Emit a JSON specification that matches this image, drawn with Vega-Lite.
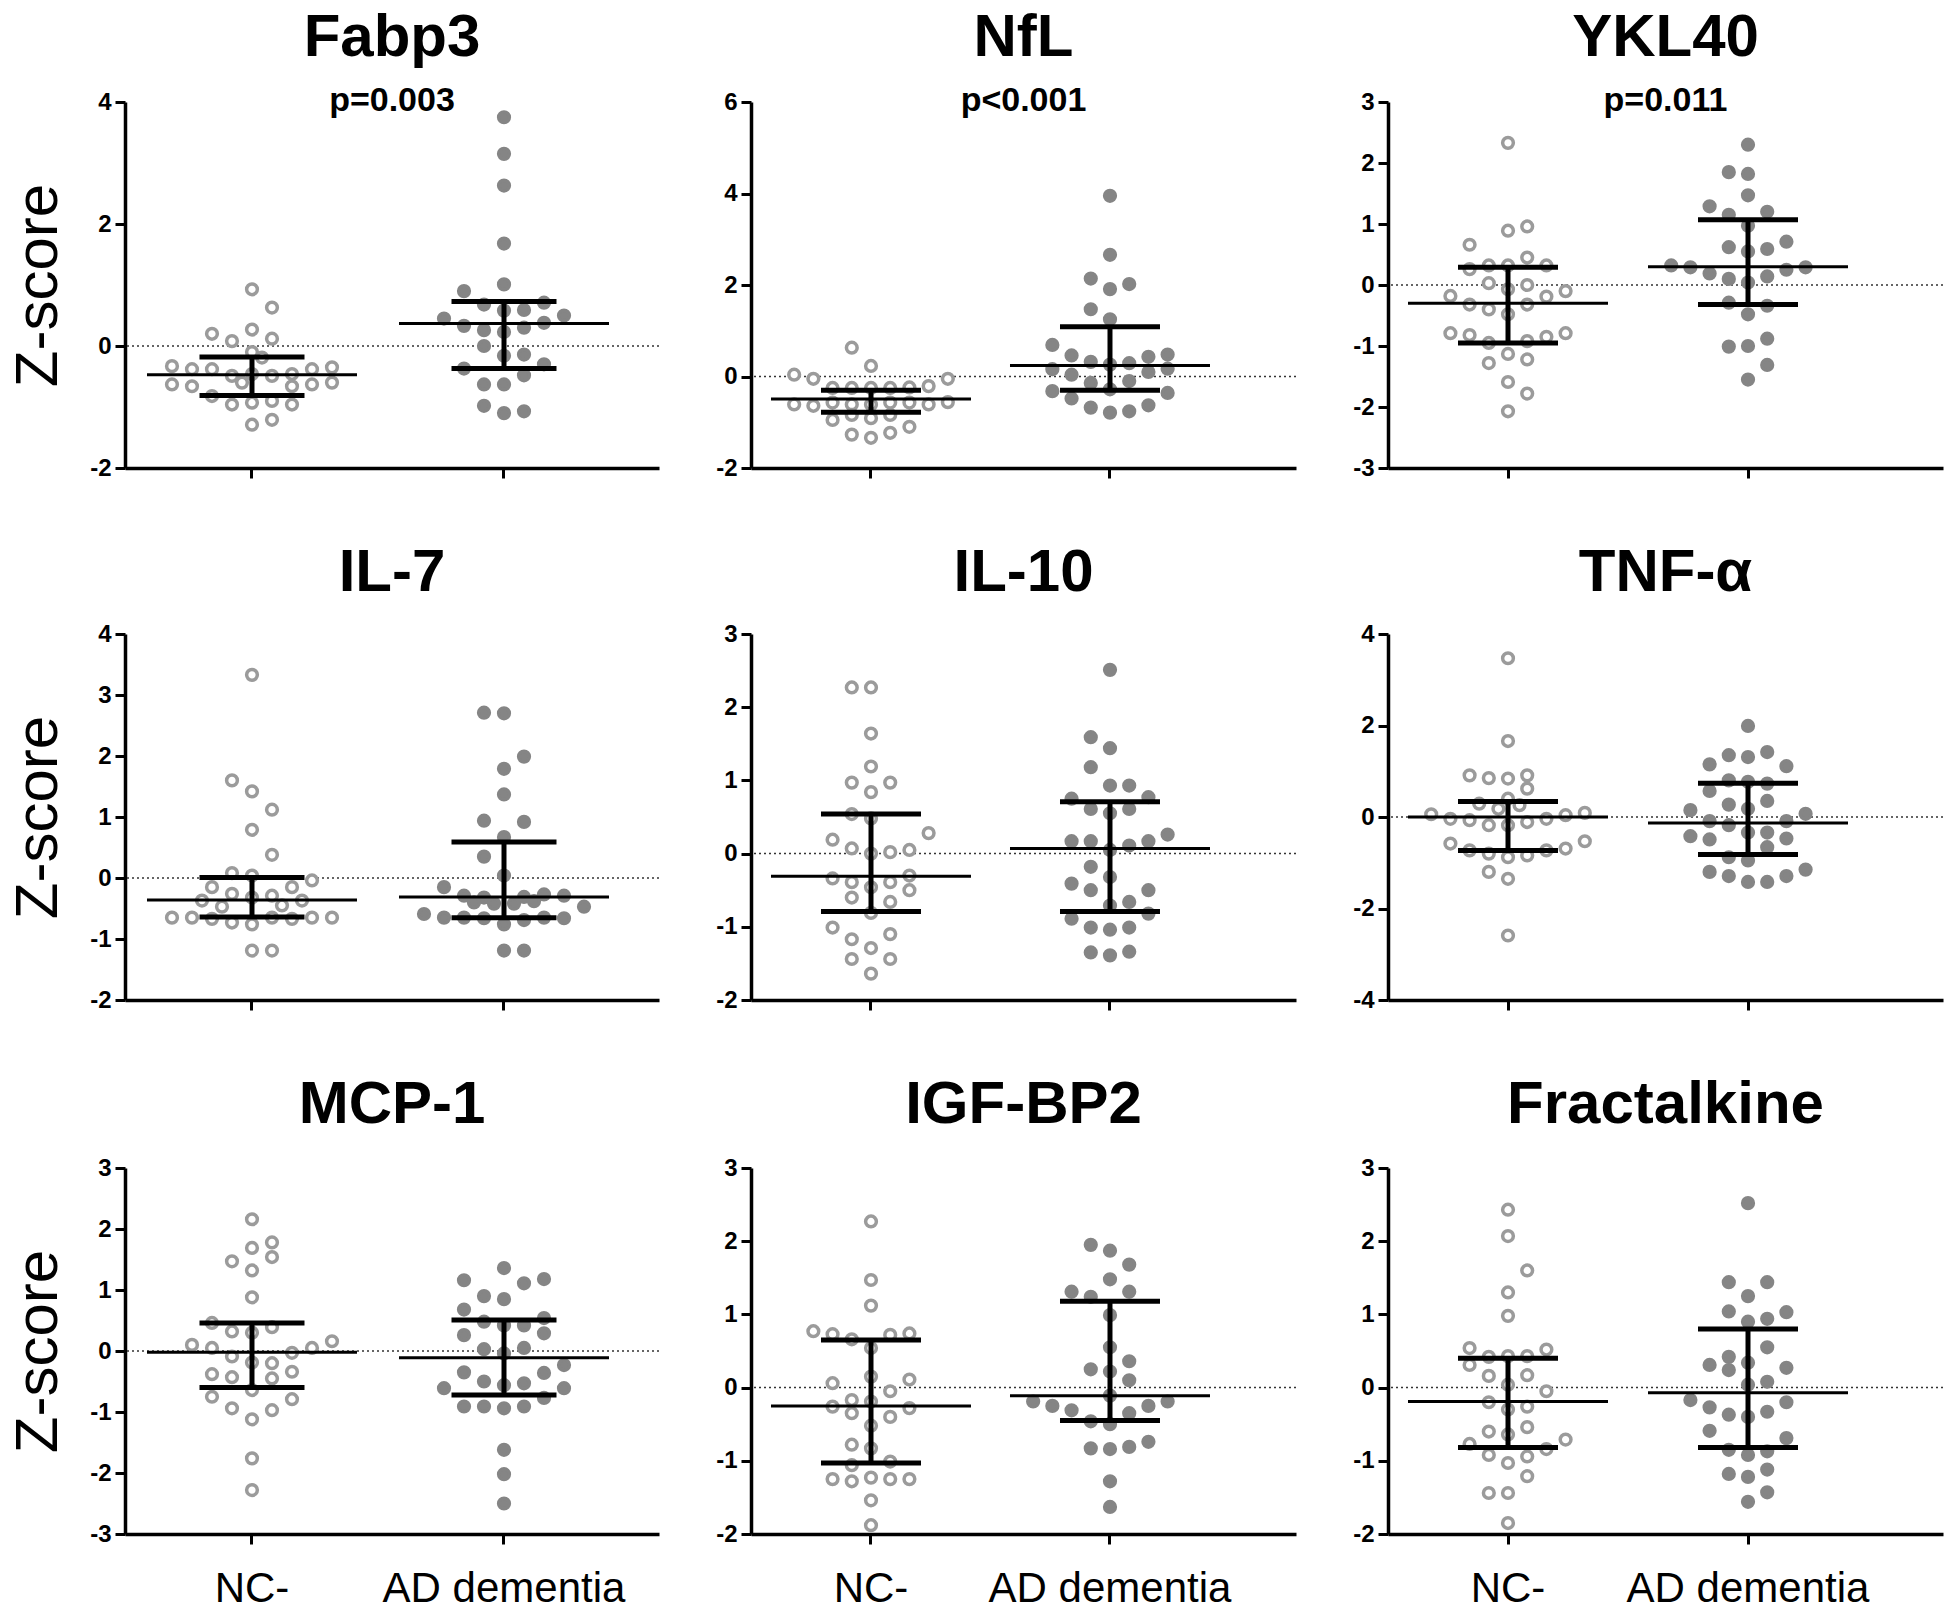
{
"$schema": "https://vega.github.io/schema/vega-lite/v6.json",
"padding": {"left": 8, "top": 8, "right": 0, "bottom": 0},
"datasets": {
"pts": [
{"p":"Fabp3","g":"NC-","s":0,"v":0.93},{"p":"Fabp3","g":"NC-","s":1,"v":0.63},{"p":"Fabp3","g":"NC-","s":-2,"v":0.2},{"p":"Fabp3","g":"NC-","s":0,"v":0.27},{"p":"Fabp3","g":"NC-","s":-1,"v":0.08},{"p":"Fabp3","g":"NC-","s":1,"v":0.12},{"p":"Fabp3","g":"NC-","s":0,"v":-0.1},{"p":"Fabp3","g":"NC-","s":0.5,"v":-0.19},{"p":"Fabp3","g":"NC-","s":-4,"v":-0.33},{"p":"Fabp3","g":"NC-","s":-3,"v":-0.38},{"p":"Fabp3","g":"NC-","s":-2,"v":-0.38},{"p":"Fabp3","g":"NC-","s":-1,"v":-0.49},{"p":"Fabp3","g":"NC-","s":0,"v":-0.46},{"p":"Fabp3","g":"NC-","s":1,"v":-0.49},{"p":"Fabp3","g":"NC-","s":2,"v":-0.46},{"p":"Fabp3","g":"NC-","s":3,"v":-0.38},{"p":"Fabp3","g":"NC-","s":4,"v":-0.35},{"p":"Fabp3","g":"NC-","s":-4,"v":-0.63},{"p":"Fabp3","g":"NC-","s":-3,"v":-0.66},{"p":"Fabp3","g":"NC-","s":-0.5,"v":-0.6},{"p":"Fabp3","g":"NC-","s":2,"v":-0.66},{"p":"Fabp3","g":"NC-","s":3,"v":-0.63},{"p":"Fabp3","g":"NC-","s":4,"v":-0.6},{"p":"Fabp3","g":"NC-","s":-2,"v":-0.82},{"p":"Fabp3","g":"NC-","s":-1,"v":-0.96},{"p":"Fabp3","g":"NC-","s":0,"v":-0.93},{"p":"Fabp3","g":"NC-","s":1,"v":-0.9},{"p":"Fabp3","g":"NC-","s":2,"v":-0.96},{"p":"Fabp3","g":"NC-","s":0,"v":-1.29},{"p":"Fabp3","g":"NC-","s":1,"v":-1.21},
{"p":"Fabp3","g":"AD dementia","s":0,"v":3.75},{"p":"Fabp3","g":"AD dementia","s":0,"v":3.15},{"p":"Fabp3","g":"AD dementia","s":0,"v":2.63},{"p":"Fabp3","g":"AD dementia","s":0,"v":1.68},{"p":"Fabp3","g":"AD dementia","s":0,"v":1.01},{"p":"Fabp3","g":"AD dementia","s":-2,"v":0.9},{"p":"Fabp3","g":"AD dementia","s":-1,"v":0.68},{"p":"Fabp3","g":"AD dementia","s":2,"v":0.71},{"p":"Fabp3","g":"AD dementia","s":0,"v":0.58},{"p":"Fabp3","g":"AD dementia","s":1,"v":0.59},{"p":"Fabp3","g":"AD dementia","s":-3,"v":0.45},{"p":"Fabp3","g":"AD dementia","s":3,"v":0.5},{"p":"Fabp3","g":"AD dementia","s":-2,"v":0.33},{"p":"Fabp3","g":"AD dementia","s":2,"v":0.38},{"p":"Fabp3","g":"AD dementia","s":-1,"v":0.26},{"p":"Fabp3","g":"AD dementia","s":0,"v":0.23},{"p":"Fabp3","g":"AD dementia","s":1,"v":0.3},{"p":"Fabp3","g":"AD dementia","s":-1,"v":0.0},{"p":"Fabp3","g":"AD dementia","s":0,"v":-0.16},{"p":"Fabp3","g":"AD dementia","s":1,"v":-0.14},{"p":"Fabp3","g":"AD dementia","s":-2,"v":-0.37},{"p":"Fabp3","g":"AD dementia","s":2,"v":-0.3},{"p":"Fabp3","g":"AD dementia","s":1,"v":-0.48},{"p":"Fabp3","g":"AD dementia","s":-1,"v":-0.63},{"p":"Fabp3","g":"AD dementia","s":0,"v":-0.63},{"p":"Fabp3","g":"AD dementia","s":-1,"v":-0.98},{"p":"Fabp3","g":"AD dementia","s":0,"v":-1.1},{"p":"Fabp3","g":"AD dementia","s":1,"v":-1.07},
{"p":"NfL","g":"NC-","s":-1,"v":0.63},{"p":"NfL","g":"NC-","s":0,"v":0.23},{"p":"NfL","g":"NC-","s":-4,"v":0.04},{"p":"NfL","g":"NC-","s":-3,"v":-0.05},{"p":"NfL","g":"NC-","s":4,"v":-0.05},{"p":"NfL","g":"NC-","s":3,"v":-0.21},{"p":"NfL","g":"NC-","s":-2,"v":-0.25},{"p":"NfL","g":"NC-","s":-1,"v":-0.25},{"p":"NfL","g":"NC-","s":0,"v":-0.25},{"p":"NfL","g":"NC-","s":1,"v":-0.25},{"p":"NfL","g":"NC-","s":2,"v":-0.24},{"p":"NfL","g":"NC-","s":-4,"v":-0.61},{"p":"NfL","g":"NC-","s":-3,"v":-0.64},{"p":"NfL","g":"NC-","s":-2,"v":-0.57},{"p":"NfL","g":"NC-","s":-1,"v":-0.61},{"p":"NfL","g":"NC-","s":0,"v":-0.61},{"p":"NfL","g":"NC-","s":1,"v":-0.57},{"p":"NfL","g":"NC-","s":2,"v":-0.57},{"p":"NfL","g":"NC-","s":3,"v":-0.61},{"p":"NfL","g":"NC-","s":4,"v":-0.56},{"p":"NfL","g":"NC-","s":-2,"v":-0.95},{"p":"NfL","g":"NC-","s":-1,"v":-0.84},{"p":"NfL","g":"NC-","s":0,"v":-0.91},{"p":"NfL","g":"NC-","s":1,"v":-0.84},{"p":"NfL","g":"NC-","s":2,"v":-1.1},{"p":"NfL","g":"NC-","s":-1,"v":-1.27},{"p":"NfL","g":"NC-","s":0,"v":-1.34},{"p":"NfL","g":"NC-","s":1,"v":-1.23},
{"p":"NfL","g":"AD dementia","s":0,"v":3.95},{"p":"NfL","g":"AD dementia","s":0,"v":2.66},{"p":"NfL","g":"AD dementia","s":-1,"v":2.14},{"p":"NfL","g":"AD dementia","s":1,"v":2.02},{"p":"NfL","g":"AD dementia","s":0,"v":1.91},{"p":"NfL","g":"AD dementia","s":-1,"v":1.47},{"p":"NfL","g":"AD dementia","s":0,"v":1.25},{"p":"NfL","g":"AD dementia","s":-3,"v":0.69},{"p":"NfL","g":"AD dementia","s":-2,"v":0.46},{"p":"NfL","g":"AD dementia","s":2,"v":0.43},{"p":"NfL","g":"AD dementia","s":3,"v":0.48},{"p":"NfL","g":"AD dementia","s":-1,"v":0.32},{"p":"NfL","g":"AD dementia","s":1,"v":0.29},{"p":"NfL","g":"AD dementia","s":0,"v":0.26},{"p":"NfL","g":"AD dementia","s":-3,"v":0.16},{"p":"NfL","g":"AD dementia","s":3,"v":0.17},{"p":"NfL","g":"AD dementia","s":-2,"v":0.04},{"p":"NfL","g":"AD dementia","s":2,"v":0.1},{"p":"NfL","g":"AD dementia","s":-1,"v":-0.14},{"p":"NfL","g":"AD dementia","s":1,"v":-0.1},{"p":"NfL","g":"AD dementia","s":0,"v":-0.28},{"p":"NfL","g":"AD dementia","s":-3,"v":-0.32},{"p":"NfL","g":"AD dementia","s":3,"v":-0.36},{"p":"NfL","g":"AD dementia","s":-2,"v":-0.48},{"p":"NfL","g":"AD dementia","s":-1,"v":-0.68},{"p":"NfL","g":"AD dementia","s":2,"v":-0.63},{"p":"NfL","g":"AD dementia","s":0,"v":-0.79},{"p":"NfL","g":"AD dementia","s":1,"v":-0.76},
{"p":"YKL40","g":"NC-","s":0,"v":2.33},{"p":"YKL40","g":"NC-","s":0,"v":0.89},{"p":"YKL40","g":"NC-","s":1,"v":0.96},{"p":"YKL40","g":"NC-","s":-2,"v":0.66},{"p":"YKL40","g":"NC-","s":1,"v":0.45},{"p":"YKL40","g":"NC-","s":-2,"v":0.26},{"p":"YKL40","g":"NC-","s":-1,"v":0.32},{"p":"YKL40","g":"NC-","s":0,"v":0.32},{"p":"YKL40","g":"NC-","s":2,"v":0.32},{"p":"YKL40","g":"NC-","s":-1,"v":0.03},{"p":"YKL40","g":"NC-","s":1,"v":0.0},{"p":"YKL40","g":"NC-","s":0,"v":-0.07},{"p":"YKL40","g":"NC-","s":-3,"v":-0.18},{"p":"YKL40","g":"NC-","s":3,"v":-0.1},{"p":"YKL40","g":"NC-","s":2,"v":-0.19},{"p":"YKL40","g":"NC-","s":-2,"v":-0.32},{"p":"YKL40","g":"NC-","s":-1,"v":-0.4},{"p":"YKL40","g":"NC-","s":1,"v":-0.32},{"p":"YKL40","g":"NC-","s":0,"v":-0.48},{"p":"YKL40","g":"NC-","s":-3,"v":-0.79},{"p":"YKL40","g":"NC-","s":-2,"v":-0.82},{"p":"YKL40","g":"NC-","s":2,"v":-0.85},{"p":"YKL40","g":"NC-","s":3,"v":-0.79},{"p":"YKL40","g":"NC-","s":-1,"v":-0.95},{"p":"YKL40","g":"NC-","s":1,"v":-0.92},{"p":"YKL40","g":"NC-","s":0,"v":-1.13},{"p":"YKL40","g":"NC-","s":1,"v":-1.22},{"p":"YKL40","g":"NC-","s":-1,"v":-1.28},{"p":"YKL40","g":"NC-","s":0,"v":-1.59},{"p":"YKL40","g":"NC-","s":1,"v":-1.78},{"p":"YKL40","g":"NC-","s":0,"v":-2.07},
{"p":"YKL40","g":"AD dementia","s":0,"v":2.3},{"p":"YKL40","g":"AD dementia","s":-1,"v":1.85},{"p":"YKL40","g":"AD dementia","s":0,"v":1.82},{"p":"YKL40","g":"AD dementia","s":0,"v":1.47},{"p":"YKL40","g":"AD dementia","s":-2,"v":1.29},{"p":"YKL40","g":"AD dementia","s":-1,"v":1.15},{"p":"YKL40","g":"AD dementia","s":1,"v":1.2},{"p":"YKL40","g":"AD dementia","s":0,"v":0.97},{"p":"YKL40","g":"AD dementia","s":-1,"v":0.62},{"p":"YKL40","g":"AD dementia","s":0,"v":0.55},{"p":"YKL40","g":"AD dementia","s":1,"v":0.59},{"p":"YKL40","g":"AD dementia","s":2,"v":0.71},{"p":"YKL40","g":"AD dementia","s":-4,"v":0.32},{"p":"YKL40","g":"AD dementia","s":-3,"v":0.29},{"p":"YKL40","g":"AD dementia","s":3,"v":0.29},{"p":"YKL40","g":"AD dementia","s":-2,"v":0.19},{"p":"YKL40","g":"AD dementia","s":2,"v":0.25},{"p":"YKL40","g":"AD dementia","s":-1,"v":0.1},{"p":"YKL40","g":"AD dementia","s":1,"v":0.14},{"p":"YKL40","g":"AD dementia","s":0,"v":0.04},{"p":"YKL40","g":"AD dementia","s":-1,"v":-0.29},{"p":"YKL40","g":"AD dementia","s":1,"v":-0.34},{"p":"YKL40","g":"AD dementia","s":0,"v":-0.48},{"p":"YKL40","g":"AD dementia","s":1,"v":-0.88},{"p":"YKL40","g":"AD dementia","s":-1,"v":-1.01},{"p":"YKL40","g":"AD dementia","s":0,"v":-1.0},{"p":"YKL40","g":"AD dementia","s":1,"v":-1.31},{"p":"YKL40","g":"AD dementia","s":0,"v":-1.55},
{"p":"IL-7","g":"NC-","s":0,"v":3.33},{"p":"IL-7","g":"NC-","s":-1,"v":1.6},{"p":"IL-7","g":"NC-","s":0,"v":1.42},{"p":"IL-7","g":"NC-","s":1,"v":1.12},{"p":"IL-7","g":"NC-","s":0,"v":0.79},{"p":"IL-7","g":"NC-","s":1,"v":0.38},{"p":"IL-7","g":"NC-","s":-1,"v":0.08},{"p":"IL-7","g":"NC-","s":0,"v":0.04},{"p":"IL-7","g":"NC-","s":3,"v":-0.04},{"p":"IL-7","g":"NC-","s":-2,"v":-0.15},{"p":"IL-7","g":"NC-","s":2,"v":-0.15},{"p":"IL-7","g":"NC-","s":-1,"v":-0.26},{"p":"IL-7","g":"NC-","s":1,"v":-0.29},{"p":"IL-7","g":"NC-","s":-2.5,"v":-0.37},{"p":"IL-7","g":"NC-","s":0,"v":-0.32},{"p":"IL-7","g":"NC-","s":2.5,"v":-0.37},{"p":"IL-7","g":"NC-","s":-1.5,"v":-0.47},{"p":"IL-7","g":"NC-","s":1.5,"v":-0.45},{"p":"IL-7","g":"NC-","s":-4,"v":-0.65},{"p":"IL-7","g":"NC-","s":-3,"v":-0.65},{"p":"IL-7","g":"NC-","s":-2,"v":-0.67},{"p":"IL-7","g":"NC-","s":-1,"v":-0.73},{"p":"IL-7","g":"NC-","s":0,"v":-0.76},{"p":"IL-7","g":"NC-","s":1,"v":-0.65},{"p":"IL-7","g":"NC-","s":2,"v":-0.67},{"p":"IL-7","g":"NC-","s":3,"v":-0.65},{"p":"IL-7","g":"NC-","s":4,"v":-0.65},{"p":"IL-7","g":"NC-","s":0,"v":-1.19},{"p":"IL-7","g":"NC-","s":1,"v":-1.19},
{"p":"IL-7","g":"AD dementia","s":-1,"v":2.71},{"p":"IL-7","g":"AD dementia","s":0,"v":2.7},{"p":"IL-7","g":"AD dementia","s":1,"v":1.99},{"p":"IL-7","g":"AD dementia","s":0,"v":1.79},{"p":"IL-7","g":"AD dementia","s":0,"v":1.37},{"p":"IL-7","g":"AD dementia","s":-1,"v":0.94},{"p":"IL-7","g":"AD dementia","s":1,"v":0.92},{"p":"IL-7","g":"AD dementia","s":0,"v":0.67},{"p":"IL-7","g":"AD dementia","s":-1,"v":0.35},{"p":"IL-7","g":"AD dementia","s":0,"v":0.04},{"p":"IL-7","g":"AD dementia","s":-3,"v":-0.15},{"p":"IL-7","g":"AD dementia","s":-2,"v":-0.29},{"p":"IL-7","g":"AD dementia","s":-1,"v":-0.32},{"p":"IL-7","g":"AD dementia","s":1,"v":-0.31},{"p":"IL-7","g":"AD dementia","s":2,"v":-0.27},{"p":"IL-7","g":"AD dementia","s":3,"v":-0.29},{"p":"IL-7","g":"AD dementia","s":-1.5,"v":-0.4},{"p":"IL-7","g":"AD dementia","s":-0.5,"v":-0.42},{"p":"IL-7","g":"AD dementia","s":0.5,"v":-0.42},{"p":"IL-7","g":"AD dementia","s":1.5,"v":-0.38},{"p":"IL-7","g":"AD dementia","s":4,"v":-0.47},{"p":"IL-7","g":"AD dementia","s":-4,"v":-0.59},{"p":"IL-7","g":"AD dementia","s":-3,"v":-0.65},{"p":"IL-7","g":"AD dementia","s":-2,"v":-0.65},{"p":"IL-7","g":"AD dementia","s":-1,"v":-0.66},{"p":"IL-7","g":"AD dementia","s":0,"v":-0.76},{"p":"IL-7","g":"AD dementia","s":1,"v":-0.69},{"p":"IL-7","g":"AD dementia","s":2,"v":-0.65},{"p":"IL-7","g":"AD dementia","s":3,"v":-0.66},{"p":"IL-7","g":"AD dementia","s":0,"v":-1.19},{"p":"IL-7","g":"AD dementia","s":1,"v":-1.19},
{"p":"IL-10","g":"NC-","s":-1,"v":2.27},{"p":"IL-10","g":"NC-","s":0,"v":2.27},{"p":"IL-10","g":"NC-","s":0,"v":1.64},{"p":"IL-10","g":"NC-","s":0,"v":1.19},{"p":"IL-10","g":"NC-","s":-1,"v":0.97},{"p":"IL-10","g":"NC-","s":1,"v":0.97},{"p":"IL-10","g":"NC-","s":0,"v":0.84},{"p":"IL-10","g":"NC-","s":-1,"v":0.54},{"p":"IL-10","g":"NC-","s":0,"v":0.48},{"p":"IL-10","g":"NC-","s":3,"v":0.28},{"p":"IL-10","g":"NC-","s":-2,"v":0.19},{"p":"IL-10","g":"NC-","s":-1,"v":0.07},{"p":"IL-10","g":"NC-","s":0,"v":0.0},{"p":"IL-10","g":"NC-","s":1,"v":0.02},{"p":"IL-10","g":"NC-","s":2,"v":0.05},{"p":"IL-10","g":"NC-","s":-2,"v":-0.34},{"p":"IL-10","g":"NC-","s":-1,"v":-0.39},{"p":"IL-10","g":"NC-","s":2,"v":-0.3},{"p":"IL-10","g":"NC-","s":0,"v":-0.46},{"p":"IL-10","g":"NC-","s":1,"v":-0.39},{"p":"IL-10","g":"NC-","s":2,"v":-0.5},{"p":"IL-10","g":"NC-","s":-1,"v":-0.6},{"p":"IL-10","g":"NC-","s":1,"v":-0.66},{"p":"IL-10","g":"NC-","s":0,"v":-0.81},{"p":"IL-10","g":"NC-","s":-2,"v":-1.01},{"p":"IL-10","g":"NC-","s":-1,"v":-1.17},{"p":"IL-10","g":"NC-","s":1,"v":-1.1},{"p":"IL-10","g":"NC-","s":0,"v":-1.29},{"p":"IL-10","g":"NC-","s":-1,"v":-1.44},{"p":"IL-10","g":"NC-","s":1,"v":-1.44},{"p":"IL-10","g":"NC-","s":0,"v":-1.64},
{"p":"IL-10","g":"AD dementia","s":0,"v":2.51},{"p":"IL-10","g":"AD dementia","s":-1,"v":1.59},{"p":"IL-10","g":"AD dementia","s":0,"v":1.44},{"p":"IL-10","g":"AD dementia","s":-1,"v":1.18},{"p":"IL-10","g":"AD dementia","s":0,"v":0.93},{"p":"IL-10","g":"AD dementia","s":1,"v":0.93},{"p":"IL-10","g":"AD dementia","s":-2,"v":0.75},{"p":"IL-10","g":"AD dementia","s":2,"v":0.77},{"p":"IL-10","g":"AD dementia","s":-1,"v":0.61},{"p":"IL-10","g":"AD dementia","s":0,"v":0.55},{"p":"IL-10","g":"AD dementia","s":1,"v":0.61},{"p":"IL-10","g":"AD dementia","s":3,"v":0.26},{"p":"IL-10","g":"AD dementia","s":-2,"v":0.17},{"p":"IL-10","g":"AD dementia","s":-1,"v":0.17},{"p":"IL-10","g":"AD dementia","s":2,"v":0.17},{"p":"IL-10","g":"AD dementia","s":1,"v":0.11},{"p":"IL-10","g":"AD dementia","s":0,"v":0.05},{"p":"IL-10","g":"AD dementia","s":-1,"v":-0.18},{"p":"IL-10","g":"AD dementia","s":0,"v":-0.32},{"p":"IL-10","g":"AD dementia","s":-2,"v":-0.41},{"p":"IL-10","g":"AD dementia","s":-1,"v":-0.5},{"p":"IL-10","g":"AD dementia","s":2,"v":-0.5},{"p":"IL-10","g":"AD dementia","s":1,"v":-0.66},{"p":"IL-10","g":"AD dementia","s":0,"v":-0.71},{"p":"IL-10","g":"AD dementia","s":2,"v":-0.82},{"p":"IL-10","g":"AD dementia","s":-2,"v":-0.89},{"p":"IL-10","g":"AD dementia","s":-1,"v":-1.01},{"p":"IL-10","g":"AD dementia","s":0,"v":-1.04},{"p":"IL-10","g":"AD dementia","s":1,"v":-1.01},{"p":"IL-10","g":"AD dementia","s":-1,"v":-1.35},{"p":"IL-10","g":"AD dementia","s":0,"v":-1.39},{"p":"IL-10","g":"AD dementia","s":1,"v":-1.34},
{"p":"TNF","g":"NC-","s":0,"v":3.47},{"p":"TNF","g":"NC-","s":0,"v":1.66},{"p":"TNF","g":"NC-","s":-2,"v":0.91},{"p":"TNF","g":"NC-","s":-1,"v":0.85},{"p":"TNF","g":"NC-","s":0,"v":0.84},{"p":"TNF","g":"NC-","s":1,"v":0.91},{"p":"TNF","g":"NC-","s":1,"v":0.62},{"p":"TNF","g":"NC-","s":-1.5,"v":0.29},{"p":"TNF","g":"NC-","s":0,"v":0.4},{"p":"TNF","g":"NC-","s":0.6,"v":0.26},{"p":"TNF","g":"NC-","s":-0.5,"v":0.18},{"p":"TNF","g":"NC-","s":-4,"v":0.06},{"p":"TNF","g":"NC-","s":-3,"v":-0.04},{"p":"TNF","g":"NC-","s":-2,"v":-0.07},{"p":"TNF","g":"NC-","s":2,"v":-0.04},{"p":"TNF","g":"NC-","s":3,"v":0.04},{"p":"TNF","g":"NC-","s":4,"v":0.09},{"p":"TNF","g":"NC-","s":-1,"v":-0.18},{"p":"TNF","g":"NC-","s":0,"v":-0.18},{"p":"TNF","g":"NC-","s":1,"v":-0.11},{"p":"TNF","g":"NC-","s":-3,"v":-0.58},{"p":"TNF","g":"NC-","s":4,"v":-0.53},{"p":"TNF","g":"NC-","s":-2,"v":-0.73},{"p":"TNF","g":"NC-","s":-1,"v":-0.8},{"p":"TNF","g":"NC-","s":0,"v":-0.88},{"p":"TNF","g":"NC-","s":1,"v":-0.84},{"p":"TNF","g":"NC-","s":2,"v":-0.73},{"p":"TNF","g":"NC-","s":3,"v":-0.69},{"p":"TNF","g":"NC-","s":-1,"v":-1.2},{"p":"TNF","g":"NC-","s":0,"v":-1.35},{"p":"TNF","g":"NC-","s":0,"v":-2.59},
{"p":"TNF","g":"AD dementia","s":0,"v":1.99},{"p":"TNF","g":"AD dementia","s":-1,"v":1.35},{"p":"TNF","g":"AD dementia","s":0,"v":1.31},{"p":"TNF","g":"AD dementia","s":1,"v":1.42},{"p":"TNF","g":"AD dementia","s":-2,"v":1.15},{"p":"TNF","g":"AD dementia","s":2,"v":1.11},{"p":"TNF","g":"AD dementia","s":-1,"v":0.8},{"p":"TNF","g":"AD dementia","s":0,"v":0.77},{"p":"TNF","g":"AD dementia","s":1,"v":0.73},{"p":"TNF","g":"AD dementia","s":-2,"v":0.57},{"p":"TNF","g":"AD dementia","s":-1,"v":0.27},{"p":"TNF","g":"AD dementia","s":1,"v":0.35},{"p":"TNF","g":"AD dementia","s":-3,"v":0.15},{"p":"TNF","g":"AD dementia","s":0,"v":0.18},{"p":"TNF","g":"AD dementia","s":3,"v":0.07},{"p":"TNF","g":"AD dementia","s":-2,"v":-0.09},{"p":"TNF","g":"AD dementia","s":-1,"v":-0.18},{"p":"TNF","g":"AD dementia","s":2,"v":-0.09},{"p":"TNF","g":"AD dementia","s":0,"v":-0.34},{"p":"TNF","g":"AD dementia","s":1,"v":-0.34},{"p":"TNF","g":"AD dementia","s":-3,"v":-0.42},{"p":"TNF","g":"AD dementia","s":-2,"v":-0.49},{"p":"TNF","g":"AD dementia","s":2,"v":-0.47},{"p":"TNF","g":"AD dementia","s":1,"v":-0.66},{"p":"TNF","g":"AD dementia","s":-1,"v":-0.88},{"p":"TNF","g":"AD dementia","s":0,"v":-0.95},{"p":"TNF","g":"AD dementia","s":-2,"v":-1.2},{"p":"TNF","g":"AD dementia","s":-1,"v":-1.29},{"p":"TNF","g":"AD dementia","s":0,"v":-1.42},{"p":"TNF","g":"AD dementia","s":1,"v":-1.42},{"p":"TNF","g":"AD dementia","s":2,"v":-1.29},{"p":"TNF","g":"AD dementia","s":3,"v":-1.15},
{"p":"MCP-1","g":"NC-","s":0,"v":2.16},{"p":"MCP-1","g":"NC-","s":0,"v":1.69},{"p":"MCP-1","g":"NC-","s":1,"v":1.78},{"p":"MCP-1","g":"NC-","s":1,"v":1.54},{"p":"MCP-1","g":"NC-","s":-1,"v":1.47},{"p":"MCP-1","g":"NC-","s":0,"v":1.32},{"p":"MCP-1","g":"NC-","s":0,"v":0.88},{"p":"MCP-1","g":"NC-","s":-2,"v":0.46},{"p":"MCP-1","g":"NC-","s":1,"v":0.39},{"p":"MCP-1","g":"NC-","s":-1,"v":0.32},{"p":"MCP-1","g":"NC-","s":0,"v":0.3},{"p":"MCP-1","g":"NC-","s":4,"v":0.16},{"p":"MCP-1","g":"NC-","s":-3,"v":0.1},{"p":"MCP-1","g":"NC-","s":-2,"v":0.05},{"p":"MCP-1","g":"NC-","s":3,"v":0.05},{"p":"MCP-1","g":"NC-","s":2,"v":-0.03},{"p":"MCP-1","g":"NC-","s":-1,"v":-0.09},{"p":"MCP-1","g":"NC-","s":0,"v":-0.19},{"p":"MCP-1","g":"NC-","s":1,"v":-0.2},{"p":"MCP-1","g":"NC-","s":2,"v":-0.34},{"p":"MCP-1","g":"NC-","s":-2,"v":-0.38},{"p":"MCP-1","g":"NC-","s":-1,"v":-0.43},{"p":"MCP-1","g":"NC-","s":1,"v":-0.45},{"p":"MCP-1","g":"NC-","s":0,"v":-0.64},{"p":"MCP-1","g":"NC-","s":-2,"v":-0.75},{"p":"MCP-1","g":"NC-","s":2,"v":-0.79},{"p":"MCP-1","g":"NC-","s":-1,"v":-0.94},{"p":"MCP-1","g":"NC-","s":1,"v":-0.97},{"p":"MCP-1","g":"NC-","s":0,"v":-1.12},{"p":"MCP-1","g":"NC-","s":0,"v":-1.76},{"p":"MCP-1","g":"NC-","s":0,"v":-2.28},
{"p":"MCP-1","g":"AD dementia","s":0,"v":1.36},{"p":"MCP-1","g":"AD dementia","s":-2,"v":1.16},{"p":"MCP-1","g":"AD dementia","s":1,"v":1.11},{"p":"MCP-1","g":"AD dementia","s":2,"v":1.18},{"p":"MCP-1","g":"AD dementia","s":-1,"v":0.9},{"p":"MCP-1","g":"AD dementia","s":0,"v":0.85},{"p":"MCP-1","g":"AD dementia","s":-2,"v":0.68},{"p":"MCP-1","g":"AD dementia","s":-1,"v":0.48},{"p":"MCP-1","g":"AD dementia","s":0,"v":0.42},{"p":"MCP-1","g":"AD dementia","s":1,"v":0.42},{"p":"MCP-1","g":"AD dementia","s":2,"v":0.54},{"p":"MCP-1","g":"AD dementia","s":-2,"v":0.26},{"p":"MCP-1","g":"AD dementia","s":2,"v":0.29},{"p":"MCP-1","g":"AD dementia","s":-1,"v":0.03},{"p":"MCP-1","g":"AD dementia","s":1,"v":0.05},{"p":"MCP-1","g":"AD dementia","s":0,"v":-0.04},{"p":"MCP-1","g":"AD dementia","s":3,"v":-0.23},{"p":"MCP-1","g":"AD dementia","s":-2,"v":-0.35},{"p":"MCP-1","g":"AD dementia","s":2,"v":-0.36},{"p":"MCP-1","g":"AD dementia","s":-1,"v":-0.5},{"p":"MCP-1","g":"AD dementia","s":0,"v":-0.56},{"p":"MCP-1","g":"AD dementia","s":1,"v":-0.53},{"p":"MCP-1","g":"AD dementia","s":-3,"v":-0.61},{"p":"MCP-1","g":"AD dementia","s":3,"v":-0.61},{"p":"MCP-1","g":"AD dementia","s":2,"v":-0.77},{"p":"MCP-1","g":"AD dementia","s":-2,"v":-0.91},{"p":"MCP-1","g":"AD dementia","s":-1,"v":-0.91},{"p":"MCP-1","g":"AD dementia","s":0,"v":-0.94},{"p":"MCP-1","g":"AD dementia","s":1,"v":-0.91},{"p":"MCP-1","g":"AD dementia","s":0,"v":-1.62},{"p":"MCP-1","g":"AD dementia","s":0,"v":-2.02},{"p":"MCP-1","g":"AD dementia","s":0,"v":-2.5},
{"p":"IGF-BP2","g":"NC-","s":0,"v":2.27},{"p":"IGF-BP2","g":"NC-","s":0,"v":1.47},{"p":"IGF-BP2","g":"NC-","s":0,"v":1.12},{"p":"IGF-BP2","g":"NC-","s":-3,"v":0.77},{"p":"IGF-BP2","g":"NC-","s":-2,"v":0.73},{"p":"IGF-BP2","g":"NC-","s":-1,"v":0.66},{"p":"IGF-BP2","g":"NC-","s":1,"v":0.72},{"p":"IGF-BP2","g":"NC-","s":2,"v":0.74},{"p":"IGF-BP2","g":"NC-","s":0,"v":0.54},{"p":"IGF-BP2","g":"NC-","s":0,"v":0.15},{"p":"IGF-BP2","g":"NC-","s":-2,"v":0.06},{"p":"IGF-BP2","g":"NC-","s":2,"v":0.11},{"p":"IGF-BP2","g":"NC-","s":1,"v":-0.05},{"p":"IGF-BP2","g":"NC-","s":-1,"v":-0.17},{"p":"IGF-BP2","g":"NC-","s":0,"v":-0.19},{"p":"IGF-BP2","g":"NC-","s":-2,"v":-0.26},{"p":"IGF-BP2","g":"NC-","s":2,"v":-0.28},{"p":"IGF-BP2","g":"NC-","s":-1,"v":-0.35},{"p":"IGF-BP2","g":"NC-","s":1,"v":-0.4},{"p":"IGF-BP2","g":"NC-","s":0,"v":-0.52},{"p":"IGF-BP2","g":"NC-","s":-1,"v":-0.78},{"p":"IGF-BP2","g":"NC-","s":0,"v":-0.83},{"p":"IGF-BP2","g":"NC-","s":-1,"v":-1.06},{"p":"IGF-BP2","g":"NC-","s":1,"v":-1.01},{"p":"IGF-BP2","g":"NC-","s":-2,"v":-1.25},{"p":"IGF-BP2","g":"NC-","s":-1,"v":-1.28},{"p":"IGF-BP2","g":"NC-","s":0,"v":-1.23},{"p":"IGF-BP2","g":"NC-","s":1,"v":-1.25},{"p":"IGF-BP2","g":"NC-","s":2,"v":-1.25},{"p":"IGF-BP2","g":"NC-","s":0,"v":-1.54},{"p":"IGF-BP2","g":"NC-","s":0,"v":-1.88},
{"p":"IGF-BP2","g":"AD dementia","s":-1,"v":1.95},{"p":"IGF-BP2","g":"AD dementia","s":0,"v":1.87},{"p":"IGF-BP2","g":"AD dementia","s":1,"v":1.68},{"p":"IGF-BP2","g":"AD dementia","s":0,"v":1.48},{"p":"IGF-BP2","g":"AD dementia","s":-2,"v":1.31},{"p":"IGF-BP2","g":"AD dementia","s":-1,"v":1.24},{"p":"IGF-BP2","g":"AD dementia","s":1,"v":1.31},{"p":"IGF-BP2","g":"AD dementia","s":0,"v":0.99},{"p":"IGF-BP2","g":"AD dementia","s":0,"v":0.55},{"p":"IGF-BP2","g":"AD dementia","s":1,"v":0.36},{"p":"IGF-BP2","g":"AD dementia","s":-1,"v":0.25},{"p":"IGF-BP2","g":"AD dementia","s":0,"v":0.22},{"p":"IGF-BP2","g":"AD dementia","s":1,"v":0.1},{"p":"IGF-BP2","g":"AD dementia","s":0,"v":-0.11},{"p":"IGF-BP2","g":"AD dementia","s":-4,"v":-0.19},{"p":"IGF-BP2","g":"AD dementia","s":-3,"v":-0.25},{"p":"IGF-BP2","g":"AD dementia","s":-2,"v":-0.31},{"p":"IGF-BP2","g":"AD dementia","s":1,"v":-0.35},{"p":"IGF-BP2","g":"AD dementia","s":2,"v":-0.25},{"p":"IGF-BP2","g":"AD dementia","s":3,"v":-0.19},{"p":"IGF-BP2","g":"AD dementia","s":-1,"v":-0.46},{"p":"IGF-BP2","g":"AD dementia","s":0,"v":-0.5},{"p":"IGF-BP2","g":"AD dementia","s":2,"v":-0.74},{"p":"IGF-BP2","g":"AD dementia","s":-1,"v":-0.83},{"p":"IGF-BP2","g":"AD dementia","s":0,"v":-0.84},{"p":"IGF-BP2","g":"AD dementia","s":1,"v":-0.81},{"p":"IGF-BP2","g":"AD dementia","s":0,"v":-1.28},{"p":"IGF-BP2","g":"AD dementia","s":0,"v":-1.63},
{"p":"Fractalkine","g":"NC-","s":0,"v":2.43},{"p":"Fractalkine","g":"NC-","s":0,"v":2.07},{"p":"Fractalkine","g":"NC-","s":1,"v":1.6},{"p":"Fractalkine","g":"NC-","s":0,"v":1.3},{"p":"Fractalkine","g":"NC-","s":0,"v":0.98},{"p":"Fractalkine","g":"NC-","s":-2,"v":0.54},{"p":"Fractalkine","g":"NC-","s":2,"v":0.52},{"p":"Fractalkine","g":"NC-","s":-1,"v":0.42},{"p":"Fractalkine","g":"NC-","s":0,"v":0.43},{"p":"Fractalkine","g":"NC-","s":1,"v":0.43},{"p":"Fractalkine","g":"NC-","s":-2,"v":0.31},{"p":"Fractalkine","g":"NC-","s":-1,"v":0.16},{"p":"Fractalkine","g":"NC-","s":1,"v":0.17},{"p":"Fractalkine","g":"NC-","s":0,"v":0.04},{"p":"Fractalkine","g":"NC-","s":2,"v":-0.05},{"p":"Fractalkine","g":"NC-","s":-1,"v":-0.2},{"p":"Fractalkine","g":"NC-","s":1,"v":-0.26},{"p":"Fractalkine","g":"NC-","s":0,"v":-0.3},{"p":"Fractalkine","g":"NC-","s":-1,"v":-0.6},{"p":"Fractalkine","g":"NC-","s":1,"v":-0.54},{"p":"Fractalkine","g":"NC-","s":0,"v":-0.64},{"p":"Fractalkine","g":"NC-","s":-2,"v":-0.77},{"p":"Fractalkine","g":"NC-","s":3,"v":-0.71},{"p":"Fractalkine","g":"NC-","s":2,"v":-0.84},{"p":"Fractalkine","g":"NC-","s":-1,"v":-0.92},{"p":"Fractalkine","g":"NC-","s":1,"v":-0.94},{"p":"Fractalkine","g":"NC-","s":0,"v":-1.03},{"p":"Fractalkine","g":"NC-","s":1,"v":-1.21},{"p":"Fractalkine","g":"NC-","s":-1,"v":-1.44},{"p":"Fractalkine","g":"NC-","s":0,"v":-1.44},{"p":"Fractalkine","g":"NC-","s":0,"v":-1.85},
{"p":"Fractalkine","g":"AD dementia","s":0,"v":2.52},{"p":"Fractalkine","g":"AD dementia","s":-1,"v":1.44},{"p":"Fractalkine","g":"AD dementia","s":1,"v":1.44},{"p":"Fractalkine","g":"AD dementia","s":0,"v":1.25},{"p":"Fractalkine","g":"AD dementia","s":-1,"v":1.04},{"p":"Fractalkine","g":"AD dementia","s":2,"v":1.03},{"p":"Fractalkine","g":"AD dementia","s":0,"v":0.9},{"p":"Fractalkine","g":"AD dementia","s":1,"v":0.94},{"p":"Fractalkine","g":"AD dementia","s":1,"v":0.55},{"p":"Fractalkine","g":"AD dementia","s":-1,"v":0.42},{"p":"Fractalkine","g":"AD dementia","s":-2,"v":0.31},{"p":"Fractalkine","g":"AD dementia","s":0,"v":0.34},{"p":"Fractalkine","g":"AD dementia","s":2,"v":0.27},{"p":"Fractalkine","g":"AD dementia","s":-1,"v":0.24},{"p":"Fractalkine","g":"AD dementia","s":1,"v":0.08},{"p":"Fractalkine","g":"AD dementia","s":0,"v":0.04},{"p":"Fractalkine","g":"AD dementia","s":-3,"v":-0.17},{"p":"Fractalkine","g":"AD dementia","s":2,"v":-0.2},{"p":"Fractalkine","g":"AD dementia","s":-2,"v":-0.27},{"p":"Fractalkine","g":"AD dementia","s":1,"v":-0.33},{"p":"Fractalkine","g":"AD dementia","s":-1,"v":-0.37},{"p":"Fractalkine","g":"AD dementia","s":0,"v":-0.4},{"p":"Fractalkine","g":"AD dementia","s":-2,"v":-0.59},{"p":"Fractalkine","g":"AD dementia","s":2,"v":-0.69},{"p":"Fractalkine","g":"AD dementia","s":-1,"v":-0.85},{"p":"Fractalkine","g":"AD dementia","s":0,"v":-0.92},{"p":"Fractalkine","g":"AD dementia","s":1,"v":-0.87},{"p":"Fractalkine","g":"AD dementia","s":1,"v":-1.12},{"p":"Fractalkine","g":"AD dementia","s":-1,"v":-1.18},{"p":"Fractalkine","g":"AD dementia","s":0,"v":-1.22},{"p":"Fractalkine","g":"AD dementia","s":1,"v":-1.43},{"p":"Fractalkine","g":"AD dementia","s":0,"v":-1.56}
],
"st": [
{"p":"Fabp3","g":"NC-","mean":-0.47,"lo":-0.81,"hi":-0.18},{"p":"Fabp3","g":"AD dementia","mean":0.37,"lo":-0.37,"hi":0.73},
{"p":"NfL","g":"NC-","mean":-0.49,"lo":-0.78,"hi":-0.3},{"p":"NfL","g":"AD dementia","mean":0.24,"lo":-0.3,"hi":1.09},
{"p":"YKL40","g":"NC-","mean":-0.3,"lo":-0.95,"hi":0.29},{"p":"YKL40","g":"AD dementia","mean":0.3,"lo":-0.32,"hi":1.07},
{"p":"IL-7","g":"NC-","mean":-0.36,"lo":-0.64,"hi":0.01},{"p":"IL-7","g":"AD dementia","mean":-0.31,"lo":-0.65,"hi":0.59},
{"p":"IL-10","g":"NC-","mean":-0.31,"lo":-0.79,"hi":0.54},{"p":"IL-10","g":"AD dementia","mean":0.07,"lo":-0.79,"hi":0.71},
{"p":"TNF","g":"NC-","mean":0.0,"lo":-0.73,"hi":0.34},{"p":"TNF","g":"AD dementia","mean":-0.13,"lo":-0.82,"hi":0.74},
{"p":"MCP-1","g":"NC-","mean":-0.02,"lo":-0.6,"hi":0.46},{"p":"MCP-1","g":"AD dementia","mean":-0.11,"lo":-0.72,"hi":0.51},
{"p":"IGF-BP2","g":"NC-","mean":-0.25,"lo":-1.03,"hi":0.65},{"p":"IGF-BP2","g":"AD dementia","mean":-0.11,"lo":-0.45,"hi":1.18},
{"p":"Fractalkine","g":"NC-","mean":-0.19,"lo":-0.82,"hi":0.4},{"p":"Fractalkine","g":"AD dementia","mean":-0.07,"lo":-0.82,"hi":0.8}
]
},
"columns": 3,
"align": "each",
"spacing": {"row": 63, "column": 49},
"resolve": {"scale": {"x": "independent", "y": "independent", "xOffset": "independent", "fill": "independent", "stroke": "independent"}},
"concat": [
{"width": 534, "height": 366, "title": {"text": "Fabp3", "subtitle": "p=0.003", "offset": -29},
 "layer": [
  {"data": {"values": [{}]}, "mark": {"type": "rule", "strokeDash": [2, 3], "strokeWidth": 1.5, "color": "#333"}, "encoding": {"y": {"datum": 0, "type": "quantitative", "scale": {"domain": [-2, 4], "nice": false, "zero": false}, "axis": {"values": [-2, 0, 2, 4], "title": "Z-score", "labelExpr": "'' + datum.value"}}}},
  {"data": {"name": "pts"}, "transform": [{"filter": "datum.p === 'Fabp3'"}], "mark": {"type": "point", "shape": "circle", "size": 115, "strokeWidth": 3.5, "opacity": 1, "filled": true},
   "encoding": {"x": {"field": "g", "type": "nominal", "scale": {"domain": ["NC-", "AD dementia"], "paddingInner": 0, "paddingOuter": 0.0595, "align": 0.033}, "axis": {"title": null, "labels": false}},
    "xOffset": {"field": "s", "type": "quantitative", "scale": {"domain": [-6.3, 6.3]}},
    "y": {"field": "v", "type": "quantitative", "scale": {"domain": [-2, 4], "nice": false, "zero": false}, "axis": {"values": [-2, 0, 2, 4], "title": "Z-score", "labelExpr": "'' + datum.value"}},
    "fill": {"field": "g", "type": "nominal", "scale": {"domain": ["NC-", "AD dementia"], "range": ["#ffffff", "#858585"]}, "legend": null},
    "stroke": {"field": "g", "type": "nominal", "scale": {"domain": ["NC-", "AD dementia"], "range": ["#9b9b9b", "#858585"]}, "legend": null}}},
  {"data": {"name": "st"}, "transform": [{"filter": "datum.p === 'Fabp3'"}],
   "encoding": {"x": {"field": "g", "type": "nominal", "scale": {"domain": ["NC-", "AD dementia"], "paddingInner": 0, "paddingOuter": 0.0595, "align": 0.033}, "axis": {"title": null, "labels": false}}},
   "layer": [
    {"mark": {"type": "rule", "strokeWidth": 5, "color": "#000"}, "encoding": {"y": {"field": "lo", "type": "quantitative", "scale": {"domain": [-2, 4], "nice": false, "zero": false}, "axis": {"values": [-2, 0, 2, 4], "title": "Z-score", "labelExpr": "'' + datum.value"}}, "y2": {"field": "hi"}}},
    {"mark": {"type": "tick", "size": 210, "thickness": 3, "color": "#000", "opacity": 1}, "encoding": {"y": {"field": "mean", "type": "quantitative"}}},
    {"mark": {"type": "tick", "size": 105, "thickness": 5, "color": "#000", "opacity": 1}, "encoding": {"y": {"field": "lo", "type": "quantitative"}}},
    {"mark": {"type": "tick", "size": 105, "thickness": 5, "color": "#000", "opacity": 1}, "encoding": {"y": {"field": "hi", "type": "quantitative"}}}
   ]}
 ]},
{"width": 545, "height": 366, "title": {"text": "NfL", "subtitle": "p<0.001", "offset": -29},
 "layer": [
  {"data": {"values": [{}]}, "mark": {"type": "rule", "strokeDash": [2, 3], "strokeWidth": 1.5, "color": "#333"}, "encoding": {"y": {"datum": 0, "type": "quantitative", "scale": {"domain": [-2, 6], "nice": false, "zero": false}, "axis": {"values": [-2, 0, 2, 4, 6], "title": null, "labelExpr": "'' + datum.value"}}}},
  {"data": {"name": "pts"}, "transform": [{"filter": "datum.p === 'NfL'"}], "mark": {"type": "point", "shape": "circle", "size": 115, "strokeWidth": 3.5, "opacity": 1, "filled": true},
   "encoding": {"x": {"field": "g", "type": "nominal", "scale": {"domain": ["NC-", "AD dementia"], "paddingInner": 0, "paddingOuter": 0.1402, "align": 0.0075}, "axis": {"title": null, "labels": false}},
    "xOffset": {"field": "s", "type": "quantitative", "scale": {"domain": [-6.22, 6.22]}},
    "y": {"field": "v", "type": "quantitative", "scale": {"domain": [-2, 6], "nice": false, "zero": false}, "axis": {"values": [-2, 0, 2, 4, 6], "title": null, "labelExpr": "'' + datum.value"}},
    "fill": {"field": "g", "type": "nominal", "scale": {"domain": ["NC-", "AD dementia"], "range": ["#ffffff", "#858585"]}, "legend": null},
    "stroke": {"field": "g", "type": "nominal", "scale": {"domain": ["NC-", "AD dementia"], "range": ["#9b9b9b", "#858585"]}, "legend": null}}},
  {"data": {"name": "st"}, "transform": [{"filter": "datum.p === 'NfL'"}],
   "encoding": {"x": {"field": "g", "type": "nominal", "scale": {"domain": ["NC-", "AD dementia"], "paddingInner": 0, "paddingOuter": 0.1402, "align": 0.0075}, "axis": {"title": null, "labels": false}}},
   "layer": [
    {"mark": {"type": "rule", "strokeWidth": 5, "color": "#000"}, "encoding": {"y": {"field": "lo", "type": "quantitative", "scale": {"domain": [-2, 6], "nice": false, "zero": false}, "axis": {"values": [-2, 0, 2, 4, 6], "title": null, "labelExpr": "'' + datum.value"}}, "y2": {"field": "hi"}}},
    {"mark": {"type": "tick", "size": 200, "thickness": 3, "color": "#000", "opacity": 1}, "encoding": {"y": {"field": "mean", "type": "quantitative"}}},
    {"mark": {"type": "tick", "size": 100, "thickness": 5, "color": "#000", "opacity": 1}, "encoding": {"y": {"field": "lo", "type": "quantitative"}}},
    {"mark": {"type": "tick", "size": 100, "thickness": 5, "color": "#000", "opacity": 1}, "encoding": {"y": {"field": "hi", "type": "quantitative"}}}
   ]}
 ]},
{"width": 555, "height": 366, "title": {"text": "YKL40", "subtitle": "p=0.011", "offset": -29},
 "layer": [
  {"data": {"values": [{}]}, "mark": {"type": "rule", "strokeDash": [2, 3], "strokeWidth": 1.5, "color": "#333"}, "encoding": {"y": {"datum": 0, "type": "quantitative", "scale": {"domain": [-3, 3], "nice": false, "zero": false}, "axis": {"values": [-3, -2, -1, 0, 1, 2, 3], "title": null, "labelExpr": "'' + datum.value"}}}},
  {"data": {"name": "pts"}, "transform": [{"filter": "datum.p === 'YKL40'"}], "mark": {"type": "point", "shape": "circle", "size": 115, "strokeWidth": 3.5, "opacity": 1, "filled": true},
   "encoding": {"x": {"field": "g", "type": "nominal", "scale": {"domain": ["NC-", "AD dementia"], "paddingInner": 0, "paddingOuter": 0.15625, "align": 0}, "axis": {"title": null, "labels": false}},
    "xOffset": {"field": "s", "type": "quantitative", "scale": {"domain": [-6.25, 6.25]}},
    "y": {"field": "v", "type": "quantitative", "scale": {"domain": [-3, 3], "nice": false, "zero": false}, "axis": {"values": [-3, -2, -1, 0, 1, 2, 3], "title": null, "labelExpr": "'' + datum.value"}},
    "fill": {"field": "g", "type": "nominal", "scale": {"domain": ["NC-", "AD dementia"], "range": ["#ffffff", "#858585"]}, "legend": null},
    "stroke": {"field": "g", "type": "nominal", "scale": {"domain": ["NC-", "AD dementia"], "range": ["#9b9b9b", "#858585"]}, "legend": null}}},
  {"data": {"name": "st"}, "transform": [{"filter": "datum.p === 'YKL40'"}],
   "encoding": {"x": {"field": "g", "type": "nominal", "scale": {"domain": ["NC-", "AD dementia"], "paddingInner": 0, "paddingOuter": 0.15625, "align": 0}, "axis": {"title": null, "labels": false}}},
   "layer": [
    {"mark": {"type": "rule", "strokeWidth": 5, "color": "#000"}, "encoding": {"y": {"field": "lo", "type": "quantitative", "scale": {"domain": [-3, 3], "nice": false, "zero": false}, "axis": {"values": [-3, -2, -1, 0, 1, 2, 3], "title": null, "labelExpr": "'' + datum.value"}}, "y2": {"field": "hi"}}},
    {"mark": {"type": "tick", "size": 200, "thickness": 3, "color": "#000", "opacity": 1}, "encoding": {"y": {"field": "mean", "type": "quantitative"}}},
    {"mark": {"type": "tick", "size": 100, "thickness": 5, "color": "#000", "opacity": 1}, "encoding": {"y": {"field": "lo", "type": "quantitative"}}},
    {"mark": {"type": "tick", "size": 100, "thickness": 5, "color": "#000", "opacity": 1}, "encoding": {"y": {"field": "hi", "type": "quantitative"}}}
   ]}
 ]},
{"width": 534, "height": 366, "title": {"text": "IL-7", "offset": 18},
 "layer": [
  {"data": {"values": [{}]}, "mark": {"type": "rule", "strokeDash": [2, 3], "strokeWidth": 1.5, "color": "#333"}, "encoding": {"y": {"datum": 0, "type": "quantitative", "scale": {"domain": [-2, 4], "nice": false, "zero": false}, "axis": {"values": [-2, -1, 0, 1, 2, 3, 4], "title": "Z-score", "labelExpr": "'' + datum.value"}}}},
  {"data": {"name": "pts"}, "transform": [{"filter": "datum.p === 'IL-7'"}], "mark": {"type": "point", "shape": "circle", "size": 115, "strokeWidth": 3.5, "opacity": 1, "filled": true},
   "encoding": {"x": {"field": "g", "type": "nominal", "scale": {"domain": ["NC-", "AD dementia"], "paddingInner": 0, "paddingOuter": 0.0595, "align": 0.033}, "axis": {"title": null, "labels": false}},
    "xOffset": {"field": "s", "type": "quantitative", "scale": {"domain": [-6.3, 6.3]}},
    "y": {"field": "v", "type": "quantitative", "scale": {"domain": [-2, 4], "nice": false, "zero": false}, "axis": {"values": [-2, -1, 0, 1, 2, 3, 4], "title": "Z-score", "labelExpr": "'' + datum.value"}},
    "fill": {"field": "g", "type": "nominal", "scale": {"domain": ["NC-", "AD dementia"], "range": ["#ffffff", "#858585"]}, "legend": null},
    "stroke": {"field": "g", "type": "nominal", "scale": {"domain": ["NC-", "AD dementia"], "range": ["#9b9b9b", "#858585"]}, "legend": null}}},
  {"data": {"name": "st"}, "transform": [{"filter": "datum.p === 'IL-7'"}],
   "encoding": {"x": {"field": "g", "type": "nominal", "scale": {"domain": ["NC-", "AD dementia"], "paddingInner": 0, "paddingOuter": 0.0595, "align": 0.033}, "axis": {"title": null, "labels": false}}},
   "layer": [
    {"mark": {"type": "rule", "strokeWidth": 5, "color": "#000"}, "encoding": {"y": {"field": "lo", "type": "quantitative", "scale": {"domain": [-2, 4], "nice": false, "zero": false}, "axis": {"values": [-2, -1, 0, 1, 2, 3, 4], "title": "Z-score", "labelExpr": "'' + datum.value"}}, "y2": {"field": "hi"}}},
    {"mark": {"type": "tick", "size": 210, "thickness": 3, "color": "#000", "opacity": 1}, "encoding": {"y": {"field": "mean", "type": "quantitative"}}},
    {"mark": {"type": "tick", "size": 105, "thickness": 5, "color": "#000", "opacity": 1}, "encoding": {"y": {"field": "lo", "type": "quantitative"}}},
    {"mark": {"type": "tick", "size": 105, "thickness": 5, "color": "#000", "opacity": 1}, "encoding": {"y": {"field": "hi", "type": "quantitative"}}}
   ]}
 ]},
{"width": 545, "height": 366, "title": {"text": "IL-10", "offset": 18},
 "layer": [
  {"data": {"values": [{}]}, "mark": {"type": "rule", "strokeDash": [2, 3], "strokeWidth": 1.5, "color": "#333"}, "encoding": {"y": {"datum": 0, "type": "quantitative", "scale": {"domain": [-2, 3], "nice": false, "zero": false}, "axis": {"values": [-2, -1, 0, 1, 2, 3], "title": null, "labelExpr": "'' + datum.value"}}}},
  {"data": {"name": "pts"}, "transform": [{"filter": "datum.p === 'IL-10'"}], "mark": {"type": "point", "shape": "circle", "size": 115, "strokeWidth": 3.5, "opacity": 1, "filled": true},
   "encoding": {"x": {"field": "g", "type": "nominal", "scale": {"domain": ["NC-", "AD dementia"], "paddingInner": 0, "paddingOuter": 0.1402, "align": 0.0075}, "axis": {"title": null, "labels": false}},
    "xOffset": {"field": "s", "type": "quantitative", "scale": {"domain": [-6.22, 6.22]}},
    "y": {"field": "v", "type": "quantitative", "scale": {"domain": [-2, 3], "nice": false, "zero": false}, "axis": {"values": [-2, -1, 0, 1, 2, 3], "title": null, "labelExpr": "'' + datum.value"}},
    "fill": {"field": "g", "type": "nominal", "scale": {"domain": ["NC-", "AD dementia"], "range": ["#ffffff", "#858585"]}, "legend": null},
    "stroke": {"field": "g", "type": "nominal", "scale": {"domain": ["NC-", "AD dementia"], "range": ["#9b9b9b", "#858585"]}, "legend": null}}},
  {"data": {"name": "st"}, "transform": [{"filter": "datum.p === 'IL-10'"}],
   "encoding": {"x": {"field": "g", "type": "nominal", "scale": {"domain": ["NC-", "AD dementia"], "paddingInner": 0, "paddingOuter": 0.1402, "align": 0.0075}, "axis": {"title": null, "labels": false}}},
   "layer": [
    {"mark": {"type": "rule", "strokeWidth": 5, "color": "#000"}, "encoding": {"y": {"field": "lo", "type": "quantitative", "scale": {"domain": [-2, 3], "nice": false, "zero": false}, "axis": {"values": [-2, -1, 0, 1, 2, 3], "title": null, "labelExpr": "'' + datum.value"}}, "y2": {"field": "hi"}}},
    {"mark": {"type": "tick", "size": 200, "thickness": 3, "color": "#000", "opacity": 1}, "encoding": {"y": {"field": "mean", "type": "quantitative"}}},
    {"mark": {"type": "tick", "size": 100, "thickness": 5, "color": "#000", "opacity": 1}, "encoding": {"y": {"field": "lo", "type": "quantitative"}}},
    {"mark": {"type": "tick", "size": 100, "thickness": 5, "color": "#000", "opacity": 1}, "encoding": {"y": {"field": "hi", "type": "quantitative"}}}
   ]}
 ]},
{"width": 555, "height": 366, "title": {"text": "TNF-α", "offset": 18},
 "layer": [
  {"data": {"values": [{}]}, "mark": {"type": "rule", "strokeDash": [2, 3], "strokeWidth": 1.5, "color": "#333"}, "encoding": {"y": {"datum": 0, "type": "quantitative", "scale": {"domain": [-4, 4], "nice": false, "zero": false}, "axis": {"values": [-4, -2, 0, 2, 4], "title": null, "labelExpr": "'' + datum.value"}}}},
  {"data": {"name": "pts"}, "transform": [{"filter": "datum.p === 'TNF'"}], "mark": {"type": "point", "shape": "circle", "size": 115, "strokeWidth": 3.5, "opacity": 1, "filled": true},
   "encoding": {"x": {"field": "g", "type": "nominal", "scale": {"domain": ["NC-", "AD dementia"], "paddingInner": 0, "paddingOuter": 0.15625, "align": 0}, "axis": {"title": null, "labels": false}},
    "xOffset": {"field": "s", "type": "quantitative", "scale": {"domain": [-6.25, 6.25]}},
    "y": {"field": "v", "type": "quantitative", "scale": {"domain": [-4, 4], "nice": false, "zero": false}, "axis": {"values": [-4, -2, 0, 2, 4], "title": null, "labelExpr": "'' + datum.value"}},
    "fill": {"field": "g", "type": "nominal", "scale": {"domain": ["NC-", "AD dementia"], "range": ["#ffffff", "#858585"]}, "legend": null},
    "stroke": {"field": "g", "type": "nominal", "scale": {"domain": ["NC-", "AD dementia"], "range": ["#9b9b9b", "#858585"]}, "legend": null}}},
  {"data": {"name": "st"}, "transform": [{"filter": "datum.p === 'TNF'"}],
   "encoding": {"x": {"field": "g", "type": "nominal", "scale": {"domain": ["NC-", "AD dementia"], "paddingInner": 0, "paddingOuter": 0.15625, "align": 0}, "axis": {"title": null, "labels": false}}},
   "layer": [
    {"mark": {"type": "rule", "strokeWidth": 5, "color": "#000"}, "encoding": {"y": {"field": "lo", "type": "quantitative", "scale": {"domain": [-4, 4], "nice": false, "zero": false}, "axis": {"values": [-4, -2, 0, 2, 4], "title": null, "labelExpr": "'' + datum.value"}}, "y2": {"field": "hi"}}},
    {"mark": {"type": "tick", "size": 200, "thickness": 3, "color": "#000", "opacity": 1}, "encoding": {"y": {"field": "mean", "type": "quantitative"}}},
    {"mark": {"type": "tick", "size": 100, "thickness": 5, "color": "#000", "opacity": 1}, "encoding": {"y": {"field": "lo", "type": "quantitative"}}},
    {"mark": {"type": "tick", "size": 100, "thickness": 5, "color": "#000", "opacity": 1}, "encoding": {"y": {"field": "hi", "type": "quantitative"}}}
   ]}
 ]},
{"width": 534, "height": 366, "title": {"text": "MCP-1", "offset": 20},
 "layer": [
  {"data": {"values": [{}]}, "mark": {"type": "rule", "strokeDash": [2, 3], "strokeWidth": 1.5, "color": "#333"}, "encoding": {"y": {"datum": 0, "type": "quantitative", "scale": {"domain": [-3, 3], "nice": false, "zero": false}, "axis": {"values": [-3, -2, -1, 0, 1, 2, 3], "title": "Z-score", "labelExpr": "'' + datum.value"}}}},
  {"data": {"name": "pts"}, "transform": [{"filter": "datum.p === 'MCP-1'"}], "mark": {"type": "point", "shape": "circle", "size": 115, "strokeWidth": 3.5, "opacity": 1, "filled": true},
   "encoding": {"x": {"field": "g", "type": "nominal", "scale": {"domain": ["NC-", "AD dementia"], "paddingInner": 0, "paddingOuter": 0.0595, "align": 0.033}, "axis": {"title": null, "labels": true}},
    "xOffset": {"field": "s", "type": "quantitative", "scale": {"domain": [-6.3, 6.3]}},
    "y": {"field": "v", "type": "quantitative", "scale": {"domain": [-3, 3], "nice": false, "zero": false}, "axis": {"values": [-3, -2, -1, 0, 1, 2, 3], "title": "Z-score", "labelExpr": "'' + datum.value"}},
    "fill": {"field": "g", "type": "nominal", "scale": {"domain": ["NC-", "AD dementia"], "range": ["#ffffff", "#858585"]}, "legend": null},
    "stroke": {"field": "g", "type": "nominal", "scale": {"domain": ["NC-", "AD dementia"], "range": ["#9b9b9b", "#858585"]}, "legend": null}}},
  {"data": {"name": "st"}, "transform": [{"filter": "datum.p === 'MCP-1'"}],
   "encoding": {"x": {"field": "g", "type": "nominal", "scale": {"domain": ["NC-", "AD dementia"], "paddingInner": 0, "paddingOuter": 0.0595, "align": 0.033}, "axis": {"title": null, "labels": true}}},
   "layer": [
    {"mark": {"type": "rule", "strokeWidth": 5, "color": "#000"}, "encoding": {"y": {"field": "lo", "type": "quantitative", "scale": {"domain": [-3, 3], "nice": false, "zero": false}, "axis": {"values": [-3, -2, -1, 0, 1, 2, 3], "title": "Z-score", "labelExpr": "'' + datum.value"}}, "y2": {"field": "hi"}}},
    {"mark": {"type": "tick", "size": 210, "thickness": 3, "color": "#000", "opacity": 1}, "encoding": {"y": {"field": "mean", "type": "quantitative"}}},
    {"mark": {"type": "tick", "size": 105, "thickness": 5, "color": "#000", "opacity": 1}, "encoding": {"y": {"field": "lo", "type": "quantitative"}}},
    {"mark": {"type": "tick", "size": 105, "thickness": 5, "color": "#000", "opacity": 1}, "encoding": {"y": {"field": "hi", "type": "quantitative"}}}
   ]}
 ]},
{"width": 545, "height": 366, "title": {"text": "IGF-BP2", "offset": 20},
 "layer": [
  {"data": {"values": [{}]}, "mark": {"type": "rule", "strokeDash": [2, 3], "strokeWidth": 1.5, "color": "#333"}, "encoding": {"y": {"datum": 0, "type": "quantitative", "scale": {"domain": [-2, 3], "nice": false, "zero": false}, "axis": {"values": [-2, -1, 0, 1, 2, 3], "title": null, "labelExpr": "'' + datum.value"}}}},
  {"data": {"name": "pts"}, "transform": [{"filter": "datum.p === 'IGF-BP2'"}], "mark": {"type": "point", "shape": "circle", "size": 115, "strokeWidth": 3.5, "opacity": 1, "filled": true},
   "encoding": {"x": {"field": "g", "type": "nominal", "scale": {"domain": ["NC-", "AD dementia"], "paddingInner": 0, "paddingOuter": 0.1402, "align": 0.0075}, "axis": {"title": null, "labels": true}},
    "xOffset": {"field": "s", "type": "quantitative", "scale": {"domain": [-6.22, 6.22]}},
    "y": {"field": "v", "type": "quantitative", "scale": {"domain": [-2, 3], "nice": false, "zero": false}, "axis": {"values": [-2, -1, 0, 1, 2, 3], "title": null, "labelExpr": "'' + datum.value"}},
    "fill": {"field": "g", "type": "nominal", "scale": {"domain": ["NC-", "AD dementia"], "range": ["#ffffff", "#858585"]}, "legend": null},
    "stroke": {"field": "g", "type": "nominal", "scale": {"domain": ["NC-", "AD dementia"], "range": ["#9b9b9b", "#858585"]}, "legend": null}}},
  {"data": {"name": "st"}, "transform": [{"filter": "datum.p === 'IGF-BP2'"}],
   "encoding": {"x": {"field": "g", "type": "nominal", "scale": {"domain": ["NC-", "AD dementia"], "paddingInner": 0, "paddingOuter": 0.1402, "align": 0.0075}, "axis": {"title": null, "labels": true}}},
   "layer": [
    {"mark": {"type": "rule", "strokeWidth": 5, "color": "#000"}, "encoding": {"y": {"field": "lo", "type": "quantitative", "scale": {"domain": [-2, 3], "nice": false, "zero": false}, "axis": {"values": [-2, -1, 0, 1, 2, 3], "title": null, "labelExpr": "'' + datum.value"}}, "y2": {"field": "hi"}}},
    {"mark": {"type": "tick", "size": 200, "thickness": 3, "color": "#000", "opacity": 1}, "encoding": {"y": {"field": "mean", "type": "quantitative"}}},
    {"mark": {"type": "tick", "size": 100, "thickness": 5, "color": "#000", "opacity": 1}, "encoding": {"y": {"field": "lo", "type": "quantitative"}}},
    {"mark": {"type": "tick", "size": 100, "thickness": 5, "color": "#000", "opacity": 1}, "encoding": {"y": {"field": "hi", "type": "quantitative"}}}
   ]}
 ]},
{"width": 555, "height": 366, "title": {"text": "Fractalkine", "offset": 20},
 "layer": [
  {"data": {"values": [{}]}, "mark": {"type": "rule", "strokeDash": [2, 3], "strokeWidth": 1.5, "color": "#333"}, "encoding": {"y": {"datum": 0, "type": "quantitative", "scale": {"domain": [-2, 3], "nice": false, "zero": false}, "axis": {"values": [-2, -1, 0, 1, 2, 3], "title": null, "labelExpr": "'' + datum.value"}}}},
  {"data": {"name": "pts"}, "transform": [{"filter": "datum.p === 'Fractalkine'"}], "mark": {"type": "point", "shape": "circle", "size": 115, "strokeWidth": 3.5, "opacity": 1, "filled": true},
   "encoding": {"x": {"field": "g", "type": "nominal", "scale": {"domain": ["NC-", "AD dementia"], "paddingInner": 0, "paddingOuter": 0.15625, "align": 0}, "axis": {"title": null, "labels": true}},
    "xOffset": {"field": "s", "type": "quantitative", "scale": {"domain": [-6.25, 6.25]}},
    "y": {"field": "v", "type": "quantitative", "scale": {"domain": [-2, 3], "nice": false, "zero": false}, "axis": {"values": [-2, -1, 0, 1, 2, 3], "title": null, "labelExpr": "'' + datum.value"}},
    "fill": {"field": "g", "type": "nominal", "scale": {"domain": ["NC-", "AD dementia"], "range": ["#ffffff", "#858585"]}, "legend": null},
    "stroke": {"field": "g", "type": "nominal", "scale": {"domain": ["NC-", "AD dementia"], "range": ["#9b9b9b", "#858585"]}, "legend": null}}},
  {"data": {"name": "st"}, "transform": [{"filter": "datum.p === 'Fractalkine'"}],
   "encoding": {"x": {"field": "g", "type": "nominal", "scale": {"domain": ["NC-", "AD dementia"], "paddingInner": 0, "paddingOuter": 0.15625, "align": 0}, "axis": {"title": null, "labels": true}}},
   "layer": [
    {"mark": {"type": "rule", "strokeWidth": 5, "color": "#000"}, "encoding": {"y": {"field": "lo", "type": "quantitative", "scale": {"domain": [-2, 3], "nice": false, "zero": false}, "axis": {"values": [-2, -1, 0, 1, 2, 3], "title": null, "labelExpr": "'' + datum.value"}}, "y2": {"field": "hi"}}},
    {"mark": {"type": "tick", "size": 200, "thickness": 3, "color": "#000", "opacity": 1}, "encoding": {"y": {"field": "mean", "type": "quantitative"}}},
    {"mark": {"type": "tick", "size": 100, "thickness": 5, "color": "#000", "opacity": 1}, "encoding": {"y": {"field": "lo", "type": "quantitative"}}},
    {"mark": {"type": "tick", "size": 100, "thickness": 5, "color": "#000", "opacity": 1}, "encoding": {"y": {"field": "hi", "type": "quantitative"}}}
   ]}
 ]}
],
"config": {
 "view": {"stroke": null},
 "font": "Liberation Sans",
 "axis": {"domainColor": "#000", "domainWidth": 3.5, "tickColor": "#000", "tickWidth": 3, "tickSize": 10, "grid": false, "labelColor": "#000", "titleColor": "#000"},
 "axisY": {"labelFontSize": 24, "labelFontWeight": "bold", "labelPadding": 4, "minExtent": 42, "maxExtent": 42, "titleFontSize": 60, "titleFontWeight": "normal", "titlePadding": 14},
 "axisX": {"labelFontSize": 42, "labelFontWeight": "normal", "labelPadding": 24, "labelAngle": 0, "labelLimit": 500},
 "title": {"fontSize": 60, "fontWeight": "bold", "color": "#000", "subtitleFontSize": 34, "subtitleFontWeight": "bold", "subtitleColor": "#000", "subtitleFont": "Liberation Sans", "anchor": "middle", "frame": "group", "subtitlePadding": 15}
}
}
